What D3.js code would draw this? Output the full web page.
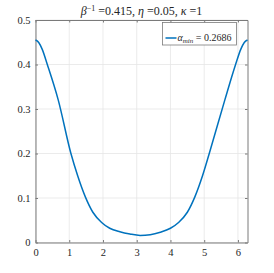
<!DOCTYPE html>
<html>
<head>
<meta charset="utf-8">
<script src="https://cdn.jsdelivr.net/npm/d3@7"></script>
<style>
  body { margin: 0; background: #fff; }
  text { font-family: "Liberation Serif", "DejaVu Serif", serif; fill: #262626; }
</style>
</head>
<body>
<script>
// values
const xs = [0, 0.1, 0.2, 0.35, 0.675, 1.05, 1.25, 1.48, 1.7, 1.96, 2.2, 2.5, 2.8, 3.1, 3.4, 3.7, 4.0, 4.24, 4.5, 4.72, 4.95, 5.15, 5.61, 5.93, 6.083, 6.183, 2 * Math.PI];
const ys = [0.455, 0.449, 0.434, 0.40, 0.32, 0.20, 0.15, 0.102, 0.068, 0.045, 0.032, 0.024, 0.019, 0.016, 0.0175, 0.023, 0.032, 0.045, 0.068, 0.102, 0.15, 0.20, 0.32, 0.40, 0.434, 0.449, 0.455];
const xTicks = [0, 1, 2, 3, 4, 5, 6];
const yTicks = [0, 0.1, 0.2, 0.3, 0.4, 0.5];
const legendLabel = "0.2686";

const width = 274, height = 273;
const margin = { top: 20, right: 26.5, bottom: 30.5, left: 35.5 };
const w = width - margin.left - margin.right;
const h = height - margin.top - margin.bottom;

const svg = d3.select("body").append("svg")
    .attr("width", width)
    .attr("height", height);

const x = d3.scaleLinear().domain([0, 2 * Math.PI]).range([0, w]);
const y = d3.scaleLinear().domain([0, 0.5]).range([h, 0]);

const g = svg.append("g").attr("transform", `translate(${margin.left},${margin.top})`);

// grid
g.selectAll(".gx").data(xTicks).enter().append("line")
    .attr("x1", d => x(d)).attr("x2", d => x(d))
    .attr("y1", 0).attr("y2", h)
    .attr("stroke", "#e6e6e6").attr("stroke-width", 0.8);
g.selectAll(".gy").data(yTicks).enter().append("line")
    .attr("y1", d => y(d)).attr("y2", d => y(d))
    .attr("x1", 0).attr("x2", w)
    .attr("stroke", "#e6e6e6").attr("stroke-width", 0.8);

// axes (ticks point inward)
const xAxis = d3.axisBottom(x).tickValues(xTicks).tickFormat(d3.format("d")).tickSizeInner(-2.5).tickSizeOuter(0).tickPadding(6);
const yAxis = d3.axisLeft(y).tickValues(yTicks).tickFormat(d => d === 0 ? "0" : d3.format(".1f")(d)).tickSizeInner(-2.5).tickSizeOuter(0).tickPadding(5);
const xTop = d3.axisTop(x).tickValues(xTicks).tickFormat("").tickSizeInner(-2.5).tickSizeOuter(0);
const yRight = d3.axisRight(y).tickValues(yTicks).tickFormat("").tickSizeInner(-2.5).tickSizeOuter(0);

function style(sel) {
    sel.selectAll("path").attr("stroke", "#7a7a7a").attr("stroke-width", 1);
    sel.selectAll("line").attr("stroke", "#7a7a7a");
    sel.selectAll("text").attr("font-family", "Liberation Serif, serif").attr("font-size", 10.5).attr("fill", "#262626");
}
g.append("g").attr("transform", `translate(0,${h})`).call(xAxis).call(style);
g.append("g").call(yAxis).call(style);
g.append("g").call(xTop).call(style);
g.append("g").attr("transform", `translate(${w},0)`).call(yRight).call(style);

// curve
const line = d3.line()
    .x((d, i) => x(xs[i]))
    .y(d => y(d))
    .curve(d3.curveMonotoneX);
g.append("path")
    .datum(ys)
    .attr("fill", "none")
    .attr("stroke", "#0072BD")
    .attr("stroke-width", 1.5)
    .attr("d", line);

// legend
const lg = svg.append("g").attr("transform", "translate(162.5,22.5)");
lg.append("rect").attr("width", 74).attr("height", 22.5)
    .attr("fill", "#fff").attr("stroke", "#7a7a7a").attr("stroke-width", 0.8);
lg.append("line").attr("x1", 3).attr("x2", 14).attr("y1", 15.5).attr("y2", 15.5)
    .attr("stroke", "#0072BD").attr("stroke-width", 1.5);
const lt = lg.append("text").attr("x", 15).attr("y", 18.5).attr("font-size", 10);
lt.append("tspan").attr("font-style", "italic").text("α");
lt.append("tspan").attr("font-style", "italic").attr("font-size", 7).attr("dy", 2).text("min");
lt.append("tspan").attr("dy", -2).text(" = " + legendLabel);

// title
const t = svg.append("text").attr("x", margin.left + w / 2).attr("y", 15)
    .attr("text-anchor", "middle").attr("font-size", 12);
t.append("tspan").attr("font-style", "italic").text("β");
t.append("tspan").attr("font-size", 8).attr("dy", -4.5).text("−1");
t.append("tspan").attr("dy", 4.5).text(" =0.415, ");
t.append("tspan").attr("font-style", "italic").text("η");
t.append("tspan").text(" =0.05, ");
t.append("tspan").attr("font-style", "italic").text("κ");
t.append("tspan").text(" =1");
</script>
</body>
</html>
